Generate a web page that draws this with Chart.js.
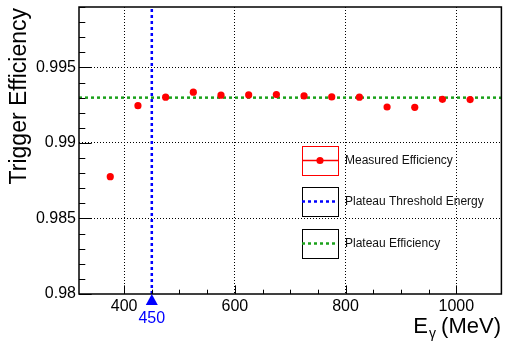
<!DOCTYPE html>
<html>
<head>
<meta charset="utf-8">
<script src="https://cdn.jsdelivr.net/npm/chart.js@4"></script>
<style>
  html, body { margin: 0; padding: 0; background: #fff; }
  canvas { display: block; }
</style>
</head>
<body>
<canvas id="effChart" width="505" height="342"></canvas>
<script>
// === DATA ===
const energies   = [375, 425, 475, 525, 575, 625, 675, 725, 775, 825, 875, 925, 975, 1025];
const efficiency = [0.98777, 0.99247, 0.99303, 0.99336, 0.99316, 0.99318, 0.99320,
                    0.99311, 0.99305, 0.99303, 0.99238, 0.99236, 0.99289, 0.99287];
const plateauEff  = 0.993;
const thresholdE  = 450;
const xRange = [318.5, 1081.5];
const yRange = [0.98, 0.999];
const legendLabels = ['Measured Efficiency', 'Plateau Threshold Energy', 'Plateau Efficiency'];

const RED = '#ff0000', BLUE = '#0000ff', GREEN = '#1aa11a';
const FONT = "'Liberation Sans', Arial, sans-serif";

// === EXTRAS: frame, inward ticks, titles, legend, threshold marker ===
const rootStyle = {
    id: 'rootStyle',
    afterDraw(chart) {
        const ctx = chart.ctx;
        const { left, right, top, bottom } = chart.chartArea;
        const xs = chart.scales.x, ys = chart.scales.y;
        ctx.save();

        // ticks inside the frame
        ctx.strokeStyle = '#000';
        ctx.lineWidth = 1;
        xs.ticks.forEach(t => {
            const px = Math.round(xs.getPixelForValue(t.value)) + 0.5;
            const len = t.value % 200 === 0 ? 8.6 : 4.3;
            ctx.beginPath(); ctx.moveTo(px, bottom); ctx.lineTo(px, bottom - len); ctx.stroke();
        });
        ys.ticks.forEach(t => {
            const py = Math.round(ys.getPixelForValue(t.value)) + 0.5;
            const len = Math.round(t.value * 1000) % 5 === 0 ? 12.7 : 6.3;
            ctx.beginPath(); ctx.moveTo(left, py); ctx.lineTo(left + len, py); ctx.stroke();
        });

        // frame
        ctx.lineWidth = 1.5;
        ctx.strokeRect(left, top, right - left, bottom - top);

        // threshold marker + label
        const tx = xs.getPixelForValue(thresholdE);
        ctx.fillStyle = BLUE;
        ctx.beginPath();
        ctx.moveTo(tx, bottom);
        ctx.lineTo(tx + 6, bottom + 11);
        ctx.lineTo(tx - 6, bottom + 11);
        ctx.closePath();
        ctx.fill();
        ctx.font = '16px ' + FONT;
        ctx.textAlign = 'center';
        ctx.textBaseline = 'alphabetic';
        ctx.fillText(String(thresholdE), tx, 323);

        // y title
        ctx.fillStyle = '#000';
        ctx.save();
        ctx.translate(25.5, 8);
        ctx.rotate(-Math.PI / 2);
        ctx.font = '23px ' + FONT;
        ctx.textAlign = 'right';
        ctx.fillText('Trigger Efficiency', 0, 0);
        ctx.restore();

        // x title: E_γ (MeV)
        ctx.textAlign = 'left';
        ctx.font = '22px ' + FONT;
        const tail = ' (MeV)';
        const wTail = ctx.measureText(tail).width;
        const wE = ctx.measureText('E').width;
        ctx.font = '14px ' + FONT;
        const wG = ctx.measureText('γ').width;
        let x0 = 501 - wTail - wG - wE;
        ctx.font = '22px ' + FONT;
        ctx.fillText('E', x0, 333);
        ctx.font = '14px ' + FONT;
        ctx.fillText('γ', x0 + wE + 1, 338);
        ctx.font = '22px ' + FONT;
        ctx.fillText(tail, x0 + wE + wG, 333);

        // legend
        const boxes = [146, 187, 229];
        const colors = [RED, BLUE, GREEN];
        const bx = 302, bw = 36, bh = 29;
        boxes.forEach((by, i) => {
            const cy = by + bh / 2;
            ctx.lineWidth = 1;
            ctx.setLineDash([]);
            ctx.strokeStyle = i === 0 ? RED : '#000';
            ctx.strokeRect(bx + 0.5, by + 0.5, bw, bh);
            ctx.strokeStyle = colors[i];
            if (i === 0) {
                ctx.lineWidth = 1.5;
                ctx.beginPath(); ctx.moveTo(bx, cy); ctx.lineTo(bx + bw, cy); ctx.stroke();
                ctx.fillStyle = RED;
                ctx.beginPath(); ctx.arc(bx + bw / 2, cy, 3.6, 0, Math.PI * 2); ctx.fill();
            } else {
                ctx.lineWidth = 2.5;
                ctx.setLineDash([3, 3]);
                ctx.beginPath(); ctx.moveTo(bx, cy); ctx.lineTo(bx + bw, cy); ctx.stroke();
                ctx.setLineDash([]);
            }
            ctx.fillStyle = '#111';
            ctx.font = '12px ' + FONT;
            ctx.textBaseline = 'middle';
            ctx.textAlign = 'left';
            ctx.fillText(legendLabels[i], 345, cy + 0.5);
        });

        ctx.restore();
    }
};

// === CHART ===
new Chart(document.getElementById('effChart'), {
    type: 'scatter',
    data: {
        datasets: [
            {
                label: legendLabels[0],
                data: energies.map((e, i) => ({ x: e, y: efficiency[i] })),
                backgroundColor: RED, borderColor: RED,
                pointRadius: 3.6, pointHoverRadius: 3.6, borderWidth: 0,
                order: 0
            },
            {
                label: legendLabels[1],
                data: [{ x: thresholdE, y: yRange[0] }, { x: thresholdE, y: yRange[1] }],
                showLine: true, borderColor: BLUE, borderWidth: 2.5, borderDash: [3, 3],
                pointRadius: 0, order: 1
            },
            {
                label: legendLabels[2],
                data: [{ x: xRange[0], y: plateauEff }, { x: xRange[1], y: plateauEff }],
                showLine: true, borderColor: GREEN, borderWidth: 2.5, borderDash: [3, 3],
                pointRadius: 0, order: 1
            }
        ]
    },
    options: {
        responsive: false, animation: false,
        layout: { padding: { left: 0, right: 3, top: 7, bottom: 0 } },
        plugins: { legend: { display: false }, tooltip: { enabled: false } },
        scales: {
            x: {
                type: 'linear', min: xRange[0], max: xRange[1],
                afterBuildTicks: s => { s.ticks = s.ticks.filter(t => t.value % 50 === 0); },
                afterFit: s => { s.height = 48; s.paddingLeft = 0; s.paddingRight = 0; },
                ticks: {
                    stepSize: 50, autoSkip: false, maxRotation: 0, padding: 3,
                    color: '#000', font: { family: FONT, size: 16 },
                    callback: v => (v % 200 === 0 ? String(v) : '')
                },
                grid: {
                    drawTicks: false, lineWidth: 1, borderDash: [1, 2],
                    color: c => (c.tick && c.tick.value % 200 === 0 ? '#000' : 'rgba(0,0,0,0)')
                },
                border: { display: false, dash: [1, 2] }
            },
            y: {
                type: 'linear', min: yRange[0], max: yRange[1],
                afterFit: s => { s.width = 79; s.paddingTop = 0; s.paddingBottom = 0; },
                ticks: {
                    stepSize: 0.001, autoSkip: false, padding: 3,
                    color: '#000', font: { family: FONT, size: 16 },
                    callback: v => (Math.round(v * 1000) % 5 === 0 ? String(+v.toFixed(3)) : '')
                },
                grid: {
                    drawTicks: false, lineWidth: 1, borderDash: [1, 2],
                    color: c => {
                        if (!c.tick) return 'rgba(0,0,0,0)';
                        const k = Math.round(c.tick.value * 1000);
                        return (k % 5 === 0 && k > 980) ? '#000' : 'rgba(0,0,0,0)';
                    }
                },
                border: { display: false, dash: [1, 2] }
            }
        }
    },
    plugins: [rootStyle]
});
</script>
</body>
</html>
